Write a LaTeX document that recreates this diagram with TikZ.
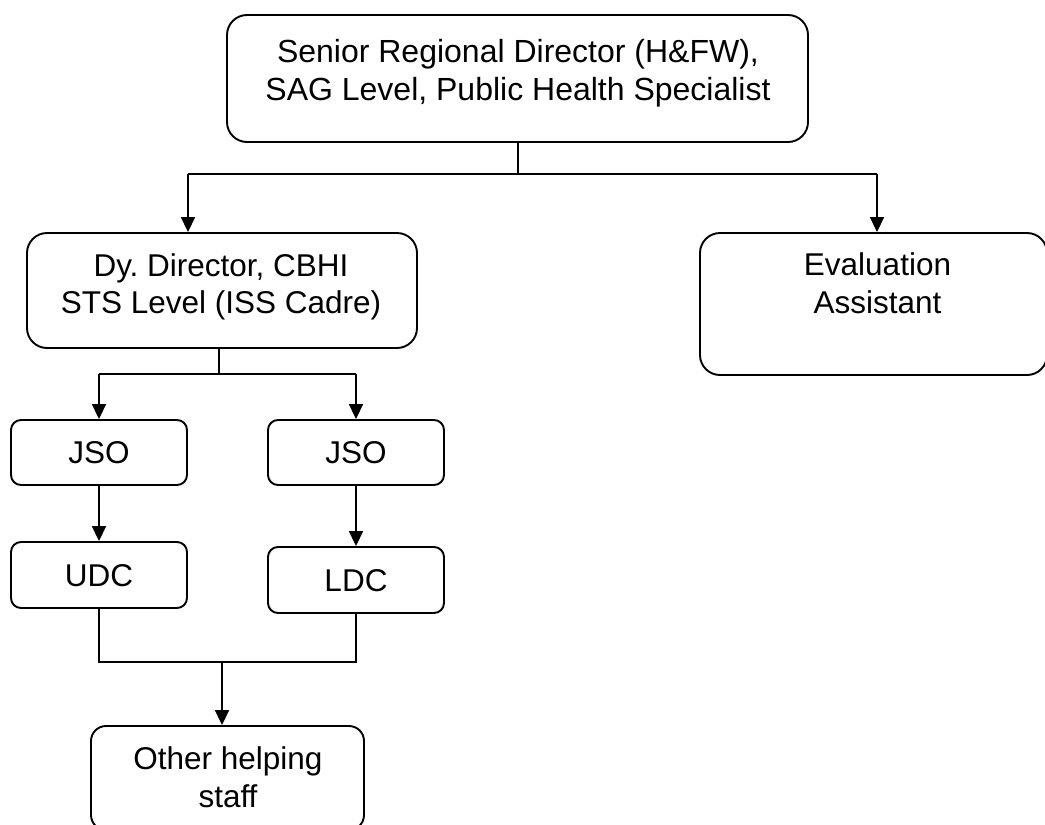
\documentclass[tikz,border=0pt]{standalone}
\usepackage{fontspec}
\setmainfont{Liberation Sans}
\usetikzlibrary{arrows.meta}
\frenchspacing
\begin{document}
\begin{tikzpicture}[x=1pt,y=-1pt,
  box/.style={draw, line width=1.9pt, fill=white, rounded corners=#1, inner sep=0pt},
  box/.default=20pt,
  txt/.style={align=center, inner sep=0pt, font=\fontsize{31.5}{37.5}\selectfont},
  one/.style={font=\fontsize{31.5}{37.5}\selectfont, text height=22.5pt, text depth=0pt},
  conn/.style={line width=1.6pt},
  arr/.style={line width=1.8pt, -{Triangle[length=15pt,width=14pt]}}
]
\useasboundingbox (0,0) rectangle (1045,825);

% boxes
\node[box=20pt, minimum width=581pt, minimum height=127pt] (top) at (517.5,78.5) {};
\node[txt, font=\fontsize{32}{38}\selectfont] (topT) at (518,73.5)
  {Senior Regional Director (H\&FW),\\SAG Level, Public Health Specialist};

\node[box=20pt, minimum width=390pt, minimum height=115pt] (dy) at (222,290.5) {};
\node[txt] (dyT) at (221,287) {Dy. Director, CBHI\\STS Level (ISS Cadre)};

\node[box=20pt, minimum width=347pt, minimum height=142pt] (ev) at (873.5,304) {};
\node[txt] (evT) at (877.5,283) {Evaluation\\Assistant};

\node[box=10pt, one, minimum width=176pt, minimum height=65pt] (jso1) at (99,452.5) {JSO};
\node[box=10pt, one, minimum width=176pt, minimum height=65pt] (jso2) at (356,452.5) {JSO};
\node[box=10pt, one, minimum width=176pt, minimum height=66pt] (udc) at (99,575) {UDC};
\node[box=10pt, one, minimum width=176pt, minimum height=66pt] (ldc) at (356,580) {LDC};

\node[box=15pt, minimum width=273pt, minimum height=104pt] (oth) at (227.5,778) {};
\node[txt] (othT) at (228,777) {Other helping\\staff};

% junction coordinates
\coordinate (j1) at (518,174);
\coordinate (b1) at (188,174);
\coordinate (b2) at (877,174);
\coordinate (j2) at (219,374);
\coordinate (c1) at (99,374);
\coordinate (c2) at (356,374);
\coordinate (d1) at (99,662);
\coordinate (d2) at (356,662);
\coordinate (d3) at (222,662);

% connectors
\draw[conn] (top.south -| j1) -- (j1);
\draw[conn] (b1) -- (b2);
\draw[arr] (b1) -- (b1 |- dy.north);
\draw[arr] (b2) -- (b2 |- ev.north);

\draw[conn] (dy.south -| j2) -- (j2);
\draw[conn] (c1) -- (c2);
\draw[arr] (c1) -- (jso1.north);
\draw[arr] (c2) -- (jso2.north);

\draw[arr] (jso1.south) -- (udc.north);
\draw[arr] (jso2.south) -- (ldc.north);

\draw[conn] (udc.south) -- (d1) -- (d2) -- (ldc.south);
\draw[arr] (d3) -- (d3 |- oth.north);
\end{tikzpicture}
\end{document}
